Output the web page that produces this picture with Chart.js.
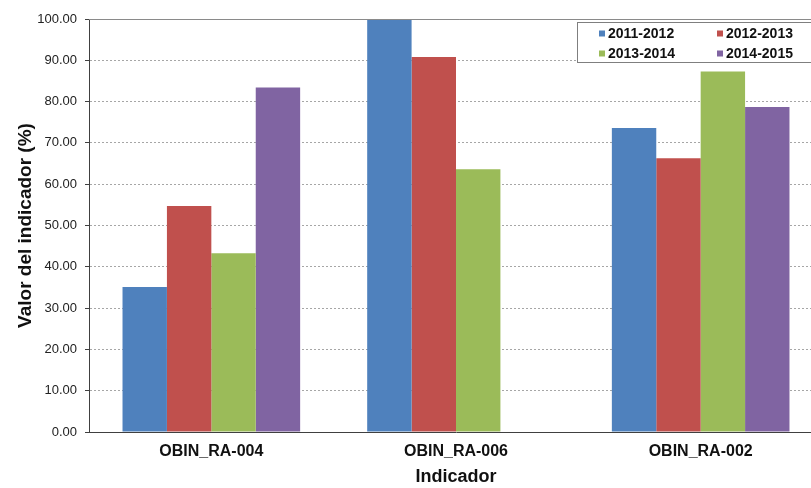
<!DOCTYPE html>
<html>
<head>
<meta charset="utf-8">
<script src="https://cdn.jsdelivr.net/npm/chart.js@4"></script>
<style>
    html, body { margin: 0; padding: 0; background: #fff; overflow: hidden; }
    canvas { display: block; }
</style>
</head>
<body>
<canvas id="myChart" width="830" height="488"></canvas>
<script>
const indicadores = ['OBIN_RA-004', 'OBIN_RA-006', 'OBIN_RA-002'];
const periodos = ['2011-2012', '2012-2013', '2013-2014', '2014-2015'];
const valores2011 = [35.1, 100.0, 73.6];
const valores2012 = [54.7, 90.8, 66.3];
const valores2013 = [43.3, 63.6, 87.3];
const valores2014 = [83.4, null, 78.7];
const colores = ['#4F81BD', '#C0504D', '#9BBB59', '#8064A2'];

const fuente = "'Liberation Sans', Arial, Helvetica, sans-serif";

// recuadro de la leyenda (estilo excel) + borde superior solido
const leyendaExcel = {
    id: 'leyendaExcel',
    afterDraw: (chart) => {
        const ctx = chart.ctx;
        const area = chart.chartArea;
        ctx.save();
        ctx.strokeStyle = '#8a8a8a';
        ctx.lineWidth = 1;
        ctx.beginPath();
        ctx.moveTo(area.left, Math.round(area.top) + 0.5);
        ctx.lineTo(chart.width, Math.round(area.top) + 0.5);
        ctx.stroke();

        ctx.fillStyle = '#fff';
        ctx.fillRect(577.5, 22.5, 260, 40);
        ctx.strokeStyle = '#7f7f7f';
        ctx.strokeRect(577.5, 22.5, 260, 40);

        ctx.font = 'bold 14px ' + fuente;
        ctx.textBaseline = 'middle';
        ctx.textAlign = 'left';
        chart.data.datasets.forEach((ds, k) => {
            const x = k % 2 == 0 ? 599 : 717;
            const y = k < 2 ? 33.5 : 53.5;
            ctx.fillStyle = ds.backgroundColor;
            ctx.fillRect(x, y - 3, 6, 6);
            ctx.fillStyle = '#111';
            ctx.fillText(ds.label, x + 9, y + 0.5);
        });
        ctx.restore();
    }
};

const series = [valores2011, valores2012, valores2013, valores2014];

let ctx = document.getElementById('myChart').getContext('2d');
window.grafica = new Chart(ctx, {
    type: 'bar',
    data: {
        labels: indicadores,
        datasets: series.map((valores, k) => ({
            label: periodos[k],
            data: valores,
            backgroundColor: colores[k],
            borderWidth: 0,
            categoryPercentage: 0.726,
            barPercentage: 1.0
        }))
    },
    options: {
        responsive: false,
        animation: false,
        devicePixelRatio: 1,
        layout: {
            padding: { top: 19, right: 7, bottom: 0, left: 0 }
        },
        plugins: {
            legend: { display: false },
            tooltip: { enabled: false }
        },
        scales: {
            x: {
                grid: { display: false, drawTicks: false },
                border: { display: true, color: '#404040', width: 1 },
                ticks: {
                    padding: 10,
                    color: '#111',
                    font: { family: fuente, size: 16, weight: 'bold' }
                },
                title: {
                    display: true,
                    text: 'Indicador',
                    color: '#111',
                    padding: { top: 0, bottom: 0 },
                    font: { family: fuente, size: 18, weight: 'bold' }
                },
                afterFit: (scale) => { scale.height = 56; }
            },
            y: {
                min: 0,
                max: 100,
                grid: {
                    color: '#a6a6a6',
                    lineWidth: 1,
                    tickLength: 4,
                    tickColor: '#404040'
                },
                border: { display: true, color: '#404040', width: 1, dash: [2, 2] },
                ticks: {
                    stepSize: 10,
                    padding: 8,
                    color: '#222',
                    font: { family: fuente, size: 13 },
                    callback: (value) => value.toFixed(2)
                },
                title: {
                    display: true,
                    text: 'Valor del indicador (%)',
                    color: '#111',
                    padding: { top: 14, bottom: 0 },
                    font: { family: fuente, size: 19, weight: 'bold' }
                },
                afterFit: (scale) => { scale.width = 89; }
            }
        }
    },
    plugins: [leyendaExcel]
});
</script>
</body>
</html>
